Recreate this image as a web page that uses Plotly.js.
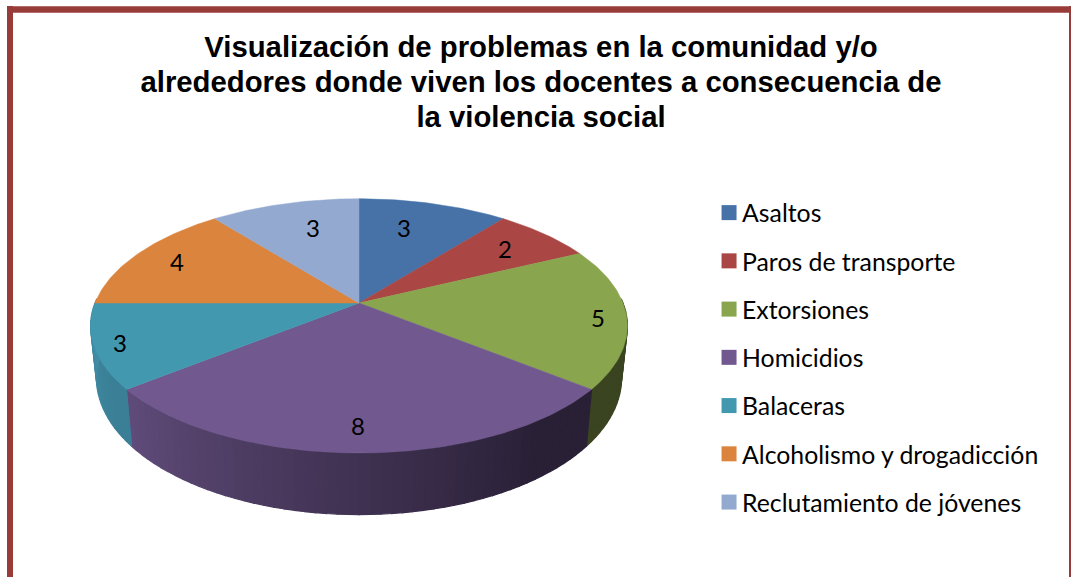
<!DOCTYPE html>
<html><head><meta charset="utf-8">
<script src="https://cdn.plot.ly/plotly-3.0.1.min.js"></script>
<style>html,body{margin:0;padding:0;background:#fff;overflow:hidden}</style>
</head><body><div id="chart" style="width:1071px;height:577px"></div>
<script>
const categories = ["Asaltos","Paros de transporte","Extorsiones","Homicidios","Balaceras","Alcoholismo y drogadicción","Reclutamiento de jóvenes"];
const values = [3,2,5,8,3,4,3];
const topColors = ["#4672A8","#AA4644","#89A54E","#71588F","#4198AF","#DB843D","#93A9CF"];
const sideLight = ["#3a5e8c","#8d3a38","#3a4420","#604b7a","#418ea6","#b56d32","#7a8cab"];
const sideDark  = ["#3a5e8c","#8d3a38","#3a4420","#292036","#3a7f96","#b56d32","#7a8cab"];
const chartTitle = "Visualización de problemas en la comunidad y/o<br>alrededores donde viven los docentes a consecuencia de<br>la violencia social";

// Perspective view of the disc (page-pixel axes)
const cx=359, cy=303, rx=264, ry=123, persp=0.18, depth=50.5, baseShrink=0.978;
const total = values.reduce((a,b)=>a+b,0);
function project(deg, lower){
  const t=deg*Math.PI/180, X=Math.sin(t), Y=Math.cos(t), w=1+persp*Y;
  return lower ? [cx+X*rx*baseShrink/w, cy-(Y*ry-depth)/w] : [cx+X*rx/w, cy-Y*ry/w];
}
function hex(c){return [1,3,5].map(i=>parseInt(c.substr(i,2),16));}
function mix(a,b,f){const A=hex(a),B=hex(b);return `rgb(${A.map((v,i)=>Math.round(v+(B[i]-v)*f)).join(",")})`;}

const sideTraces=[], topTraces=[];
let cum=0;
values.forEach((v,i)=>{
  const a0=cum/total*360, a1=(cum+v)/total*360; cum+=v;
  const from=Math.max(a0,88), to=Math.min(a1,272);
  if(to>from){
    const n=Math.max(1,Math.ceil((to-from)/2));
    for(let s=0;s<n;s++){
      const p=from+(to-from)*s/n, q=from+(to-from)*(s+1)/n;
      const pts=[project(p),project(q),project(q,true),project(p,true)];
      const f=Math.max(0,((s+0.5)/n-0.16)/0.84);
      const col=mix(sideDark[i],sideLight[i],f);
      sideTraces.push({type:"scatter",mode:"lines",x:pts.map(d=>d[0]).concat(pts[0][0]),y:pts.map(d=>d[1]).concat(pts[0][1]),
        fill:"toself",fillcolor:col,line:{color:col,width:1.2},hoverinfo:"skip",showlegend:false});
    }
  }
  const xs=[cx], ys=[cy];
  const steps=Math.ceil(a1-a0);
  for(let s=0;s<=steps;s++){const d=project(a0+(a1-a0)*s/steps);xs.push(d[0]);ys.push(d[1]);}
  xs.push(cx);ys.push(cy);
  topTraces.push({type:"scatter",mode:"lines",x:xs,y:ys,fill:"toself",fillcolor:topColors[i],
    line:{color:topColors[i],width:0.5},name:categories[i],text:String(v),hoverinfo:"name+text",showlegend:false});
});
const legendTraces=categories.map((c,i)=>({type:"scatter",mode:"markers",x:[null],y:[null],name:c,legendgroup:"g"+i,
  marker:{symbol:"square",size:15,color:topColors[i]},hoverinfo:"skip"}));

const labelSpots=[[404,227],[505,248],[598,317],[358,425],[120,342],[177,261],[313,227]];
const annotations=values.map((v,i)=>({x:labelSpots[i][0],y:labelSpots[i][1],xref:"x",yref:"y",text:String(v),showarrow:false,
  font:{family:"Lato, sans-serif",size:24,color:"#000"}}));

const border="#983c3a";
const layout={
  width:1071,height:577,margin:{l:0,r:0,t:0,b:0},paper_bgcolor:"#fff",plot_bgcolor:"#fff",
  xaxis:{range:[0,1071],visible:false,fixedrange:true},
  yaxis:{range:[577,0],visible:false,fixedrange:true},
  title:{text:chartTitle,x:541/1071,xanchor:"center",y:1-57/577,yanchor:"middle",font:{family:"Liberation Sans, Arial, sans-serif",size:29.3,color:"#000",weight:700}},
  showlegend:true,
  legend:{x:0.6555,xanchor:"left",y:1-190/577,yanchor:"top",font:{family:"Lato, sans-serif",size:24.8,color:"#000"},
    tracegroupgap:13,bgcolor:"rgba(0,0,0,0)",itemwidth:30,traceorder:"grouped",itemclick:false,itemdoubleclick:false},
  shapes:[
    {type:"line",x0:10,x1:10,y0:6,y1:577,line:{color:border,width:6}},
    {type:"line",x0:7,x1:1071,y0:9.5,y1:9.5,line:{color:border,width:6.5}},
    {type:"line",x0:1070,x1:1070,y0:6,y1:577,line:{color:border,width:2}}
  ],
  annotations
};
Plotly.newPlot("chart",sideTraces.concat(topTraces,legendTraces),layout,{displayModeBar:false}).then(()=>{
  document.querySelectorAll(".gtitle tspan.line").forEach((t,i)=>t.setAttribute("dy",(i*35)+"px"));
  document.querySelectorAll(".legend .legendsymbols").forEach(g=>g.setAttribute("transform","translate(7,0)"));
});
</script></body></html>
